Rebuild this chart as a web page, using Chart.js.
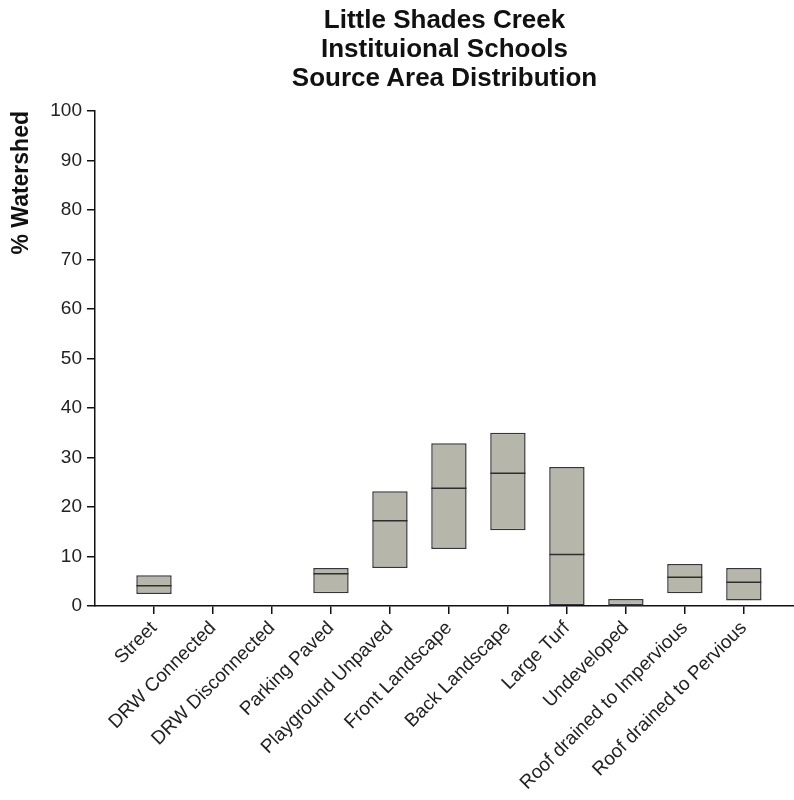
<!DOCTYPE html>
<html>
<head>
<meta charset="utf-8">
<script src="https://cdn.jsdelivr.net/npm/chart.js@4.4.0/dist/chart.umd.min.js"></script>
<style>
  html, body { margin: 0; padding: 0; background: #fff; overflow: hidden; }
  #wrap { position: relative; width: 794px; height: 800px; overflow: hidden; }
  #boxChart { position: absolute; left: 0; top: 0; }
  #title {
    position: absolute; left: 95px; width: 699px; top: 5px;
    text-align: center; color: #111;
    font: bold 26px "Liberation Sans", Arial, sans-serif; line-height: 29px;
  }
</style>
</head>
<body>
<div id="wrap">
  <!-- the plot runs off the right edge of the picture, as in the original figure -->
  <canvas id="boxChart" width="813" height="800"></canvas>
  <div id="title">Little Shades Creek<br>Instituional Schools<br>Source Area Distribution</div>
</div>
<script>
// source areas along the x axis
var categories = ['Street', 'DRW Connected', 'DRW Disconnected', 'Parking Paved', 'Playground Unpaved',
    'Front Landscape', 'Back Landscape', 'Large Turf', 'Undeveloped',
    'Roof drained to Impervious', 'Roof drained to Pervious'];
// box bottom / top / median, % of watershed (null = no area)
var boxLow  = [2.4, null, null, 2.6,  7.7, 11.5, 15.3,  0.0, 0.0, 2.6, 1.1];
var boxHigh = [6.2, null, null, 7.7, 23.2, 32.9, 35.0, 28.1, 1.4, 8.5, 7.7];
var medians = [4.1, null, null, 6.5, 17.2, 23.8, 26.8, 10.4, 0.0, 5.8, 4.8];
var yTicks = [0, 10, 20, 30, 40, 50, 60, 70, 80, 90, 100];

document.addEventListener('DOMContentLoaded', function () {
    var boxes = [], mids = [];
    categories.forEach(function (c, i) {
        if (boxLow[i] === null) return;
        boxes.push({ x: i + 1, y: [boxLow[i], boxHigh[i]] });
        mids.push({ x: i + 1, y: medians[i] });
    });

    var font = '"Liberation Sans", Arial, sans-serif';
    var ctx = document.getElementById('boxChart').getContext('2d');
    new Chart(ctx, {
        type: 'bar',
        data: {
            datasets: [
                {
                    type: 'line',
                    label: 'Median',
                    data: mids,
                    showLine: false,
                    pointStyle: 'line',
                    pointRadius: 17.5,
                    pointHoverRadius: 17.5,
                    pointBorderWidth: 1.5,
                    pointBorderColor: '#2e2e2e',
                    order: 0
                },
                {
                    label: 'Range',
                    data: boxes,
                    backgroundColor: '#b6b7aa',
                    borderColor: '#35353d',
                    borderWidth: 1.5,
                    borderSkipped: false,
                    barPercentage: 0.6,
                    categoryPercentage: 1,
                    order: 1
                }
            ]
        },
        options: {
            responsive: false,
            animation: false,
            devicePixelRatio: 1,
            layout: { padding: { top: 111, right: 0, bottom: 0, left: 0 } },
            scales: {
                x: {
                    type: 'linear',
                    min: 0,
                    max: 11.85,
                    offset: false,
                    afterBuildTicks: function (scale) {
                        scale.ticks = categories.map(function (c, i) { return { value: i + 1 }; });
                    },
                    afterFit: function (scale) { scale.height = 194; },
                    ticks: {
                        autoSkip: false,
                        minRotation: 45,
                        maxRotation: 45,
                        color: '#222',
                        font: { family: font, size: 19 },
                        callback: function (v) { return categories[Math.round(v) - 1] || ''; }
                    },
                    grid: { offset: false, drawOnChartArea: false, tickLength: 8, color: '#111', lineWidth: 1.5 },
                    border: { color: '#111', width: 1.5 }
                },
                y: {
                    min: 0,
                    max: 100,
                    afterBuildTicks: function (scale) {
                        scale.ticks = yTicks.map(function (v) { return { value: v }; });
                    },
                    afterFit: function (scale) { scale.width = 95; },
                    ticks: {
                        color: '#222',
                        padding: 5,
                        font: { family: font, size: 19 }
                    },
                    grid: { drawOnChartArea: false, tickLength: 8, color: '#111', lineWidth: 1.5 },
                    border: { color: '#111', width: 1.5 },
                    title: {
                        display: true,
                        text: '% Watershed',
                        align: 'end',
                        color: '#111',
                        padding: { top: 8, bottom: 4 },
                        font: { family: font, size: 23, weight: 'bold' }
                    }
                }
            },
            plugins: {
                legend: { display: false },
                tooltip: { enabled: false }
            }
        }
    });
});
</script>
</body>
</html>
